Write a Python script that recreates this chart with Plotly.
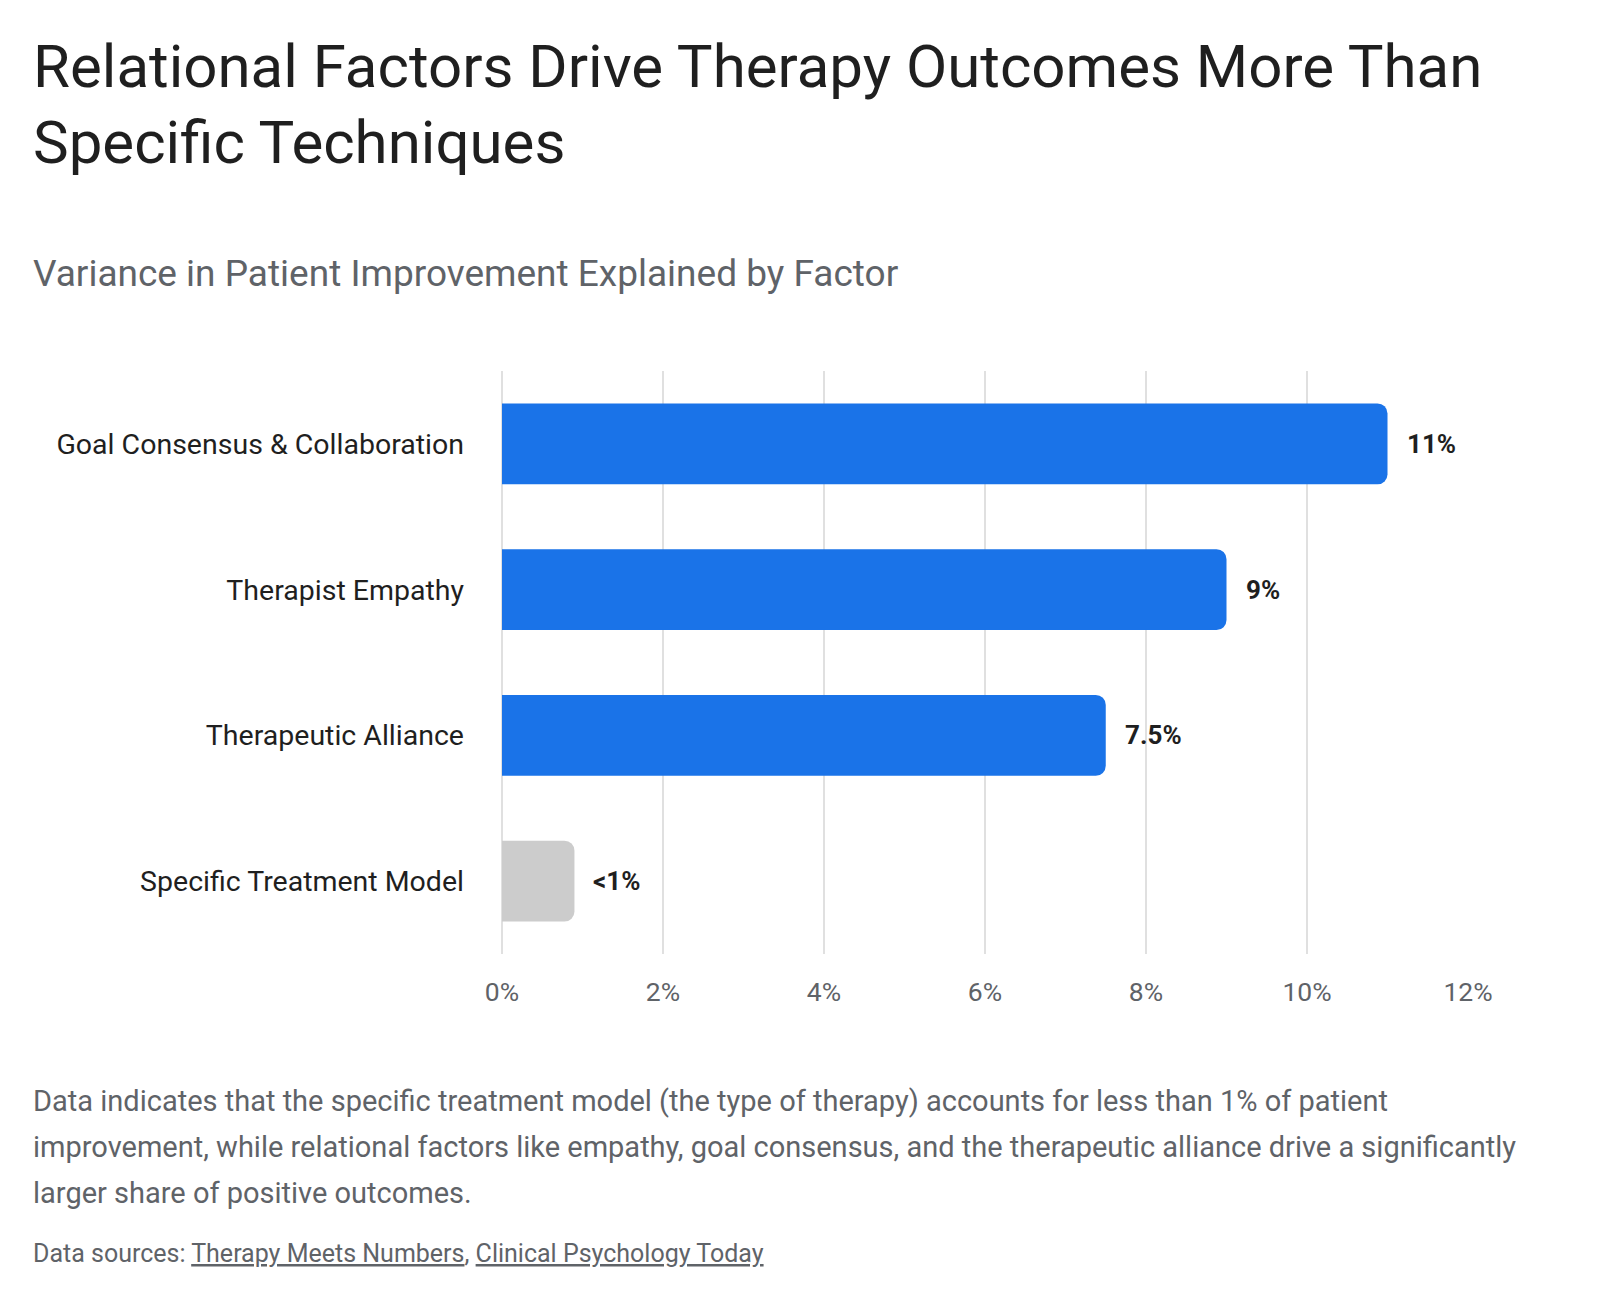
import plotly.graph_objects as go

# ---- data ----
categories = ["Goal Consensus & Collaboration", "Therapist Empathy", "Therapeutic Alliance", "Specific Treatment Model"]
values = [11, 9, 7.5, 0.9]
value_labels = ["11%", "9%", "7.5%", "<1%"]
bar_colors = ["#1a73e8", "#1a73e8", "#1a73e8", "#cccccc"]
x_ticks = [0, 2, 4, 6, 8, 10, 12]
x_tick_labels = ["0%", "2%", "4%", "6%", "8%", "10%", "12%"]

title_lines = ["Relational Factors Drive Therapy Outcomes More Than", "Specific Techniques"]
subtitle = "Variance in Patient Improvement Explained by Factor"
footer_lines = [
    "Data indicates that the specific treatment model (the type of therapy) accounts for less than 1% of patient",
    "improvement, while relational factors like empathy, goal consensus, and the therapeutic alliance drive a significantly",
    "larger share of positive outcomes.",
]
sources_prefix = "Data sources: "
sources = ["Therapy Meets Numbers", "Clinical Psychology Today"]

FONT = "Roboto, 'Noto Sans', sans-serif"
OFF = 8                      # page body margin
W, H = 1600 - 2 * OFF, 1302 - 2 * OFF


def px(xp):
    return (xp - OFF) / W


def py(yp):
    return 1 - (yp - OFF) / H


fig = go.Figure()
fig.add_trace(go.Bar(
    y=categories, x=values, orientation="h",
    marker=dict(color=bar_colors, cornerradius=10, line=dict(width=0)),
    width=0.555, hoverinfo="skip",
))

# value labels
for cat, v, lab in zip(categories, values, value_labels):
    fig.add_annotation(x=v, y=cat, xref="x", yref="y", text="<b>" + lab + "</b>",
                       showarrow=False, xanchor="left", yanchor="middle", xshift=17,
                       font=dict(family=FONT, size=26, color="#1f1f1f"))

# title
for i, line in enumerate(title_lines):
    fig.add_annotation(x=px(31), y=py(67 + 76 * i), xref="paper", yref="paper",
                       text=line, showarrow=False, xanchor="left", yanchor="middle",
                       font=dict(family=FONT, size=60, color="#1f1f1f"))
fig.add_annotation(x=px(31), y=py(274), xref="paper", yref="paper", text=subtitle,
                   showarrow=False, xanchor="left", yanchor="middle",
                   font=dict(family=FONT, size=37, color="#5f6368"))
for i, line in enumerate(footer_lines):
    fig.add_annotation(x=px(31), y=py(1101 + 46 * i), xref="paper", yref="paper",
                       text=line, showarrow=False, xanchor="left", yanchor="middle",
                       font=dict(family=FONT, size=29, color="#5f6368"))
src_text = sources_prefix + ", ".join(
    '<span style="text-decoration:underline">' + s + "</span>" for s in sources)
fig.add_annotation(x=px(31), y=py(1253), xref="paper", yref="paper", text=src_text,
                   showarrow=False, xanchor="left", yanchor="middle",
                   font=dict(family=FONT, size=25, color="#5f6368"))

fig.update_layout(
    width=W, height=H,
    margin=dict(l=0, r=0, t=0, b=0, pad=0, autoexpand=False),
    paper_bgcolor="white", plot_bgcolor="white",
    showlegend=False,
    xaxis=dict(domain=[px(502), px(1468)], range=[0, 12], tickvals=x_ticks, ticktext=x_tick_labels,
               automargin=False,
               showgrid=True, gridcolor="#e0e0e0", gridwidth=2,
               zeroline=True, zerolinecolor="#e0e0e0", zerolinewidth=2,
               showline=False, ticks="", ticklabelstandoff=19,
               tickfont=dict(family=FONT, size=26.5, color="#5f6368")),
    yaxis=dict(domain=[py(954), py(371)], categoryorder="array", categoryarray=categories,
               autorange="reversed", automargin=False,
               showgrid=False, zeroline=False, showline=False, ticks="",
               ticklabelstandoff=37,
               tickfont=dict(family=FONT, size=28.5, color="#1f1f1f")),
)

fig.write_html("out.html")
